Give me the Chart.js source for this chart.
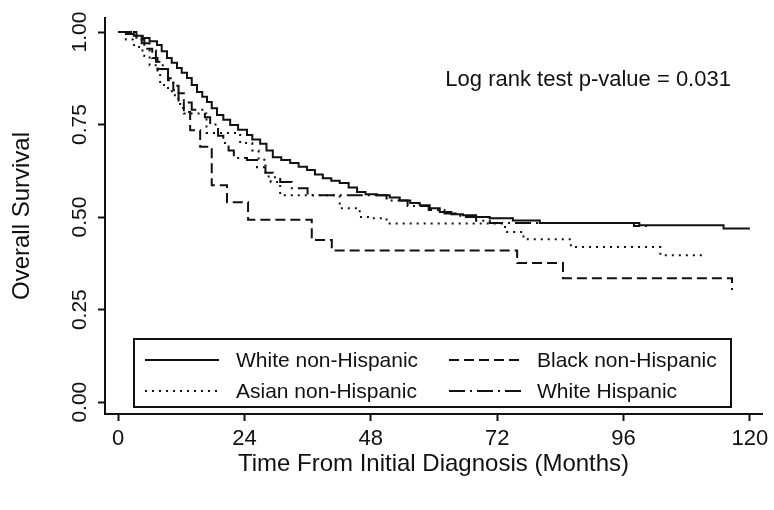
<!DOCTYPE html>
<html lang="en">
<head>
<meta charset="utf-8">
<title>Overall Survival by Race / Ethnicity</title>
<script src="https://cdn.jsdelivr.net/npm/chart.js"></script>
<style>
  html, body { margin: 0; padding: 0; background: #fff; }
  #wrap { width: 774px; height: 510px; }
</style>
</head>
<body>
<div id="wrap"><canvas id="kmChart" width="774" height="510"></canvas></div>
<script>
// Kaplan-Meier curves: month of each drop and the survival after it
const groups = ['White non-Hispanic', 'Black non-Hispanic', 'Asian non-Hispanic', 'White Hispanic'];

const whiteNhMonths = [0, 1.5, 3, 4.7, 6, 7.4, 8.3, 9.3, 10.2, 11.2, 12.1, 13.1, 14, 15, 16, 16.9, 17.8, 18.8, 20, 21.3,
  22.8, 24.5, 25.5, 27, 28.2, 29.4, 31, 32.7, 34.3, 35.9, 37.4, 38.9, 40.5, 42.1, 43.8, 45.4, 47, 49.2, 51.6, 53.5,
  55.5, 57.3, 59.2, 61.1, 63.3, 65.5, 68, 70.6, 75, 80.1, 99, 115, 120];
const whiteNhSurv = [1, 0.995, 0.99, 0.984, 0.975, 0.965, 0.948, 0.93, 0.917, 0.903, 0.89, 0.876, 0.857, 0.838, 0.825, 0.811, 0.794, 0.776, 0.763, 0.749,
  0.736, 0.722, 0.71, 0.698, 0.68, 0.662, 0.654, 0.646, 0.636, 0.627, 0.615, 0.605, 0.598, 0.592, 0.58, 0.568, 0.562, 0.559, 0.553, 0.545,
  0.538, 0.532, 0.524, 0.514, 0.508, 0.505, 0.5, 0.497, 0.491, 0.484, 0.478, 0.469, 0.469];

const blackNhMonths = [0, 3.5, 5, 6.5, 7.5, 9.5, 10.5, 11.5, 12.5, 13.7, 15.6, 17.8, 20.7, 24.7, 36.8, 40.6, 75.8, 84.5, 116.6];
const blackNhSurv = [1, 0.98, 0.955, 0.93, 0.9, 0.87, 0.843, 0.815, 0.784, 0.735, 0.69, 0.586, 0.54, 0.493, 0.438, 0.41, 0.376, 0.335, 0.303];

const asianNhMonths = [0, 1.5, 2.8, 4, 5, 6, 7.5, 8, 9.5, 10.8, 11.8, 12.5, 16.8, 23.2, 25.5, 26.7, 28, 29, 30.8, 42.1,
  45.9, 47.8, 51, 73.5, 77, 86, 103, 110.9];
const asianNhSurv = [1, 0.98, 0.965, 0.95, 0.935, 0.91, 0.89, 0.857, 0.84, 0.82, 0.795, 0.78, 0.727, 0.7, 0.68, 0.655, 0.61, 0.595, 0.559, 0.524,
  0.5, 0.497, 0.483, 0.46, 0.44, 0.419, 0.397, 0.397];

const whiteHispMonths = [0, 2.5, 4.5, 6, 7.2, 8.5, 9.5, 10.5, 11.5, 12.5, 14, 16.5, 17.5, 19, 20, 21, 22, 24.5, 26.4, 28,
  29.4, 30.8, 33, 36, 51, 55, 59, 62, 65, 68, 70.6, 98, 101];
const whiteHispSurv = [1, 0.99, 0.97, 0.95, 0.92, 0.9, 0.875, 0.855, 0.835, 0.81, 0.79, 0.77, 0.75, 0.72, 0.7, 0.68, 0.66, 0.654, 0.635, 0.62,
  0.608, 0.595, 0.578, 0.559, 0.545, 0.53, 0.519, 0.51, 0.5, 0.49, 0.484, 0.476, 0.476];

const xTicks = [0, 24, 48, 72, 96, 120];
const yTicks = [0, 0.25, 0.5, 0.75, 1];
const pValueNote = 'Log rank test p-value = 0.031';

const ink = '#111';
const FONT = '"Liberation Sans", Arial, sans-serif';
const dashes = [[], [10, 5], [2, 5], [16, 5, 2, 5]];
const series = [
  [whiteNhMonths, whiteNhSurv],
  [blackNhMonths, blackNhSurv],
  [asianNhMonths, asianNhSurv],
  [whiteHispMonths, whiteHispSurv]
];

function toPoints(months, surv) {
  return months.map((m, i) => ({ x: m, y: surv[i] }));
}

// p-value text in the upper right of the plot
const pValueText = {
  id: 'pValueText',
  afterDatasetsDraw(chart) {
    const { ctx, scales } = chart;
    ctx.save();
    ctx.font = '22px ' + FONT;
    ctx.fillStyle = ink;
    ctx.textAlign = 'right';
    ctx.textBaseline = 'middle';
    ctx.fillText(pValueNote, scales.x.getPixelForValue(116.4), scales.y.getPixelForValue(0.87));
    ctx.restore();
  }
};

// boxed two-column legend sitting inside the plot
const legendBox = {
  id: 'legendBox',
  afterDraw(chart) {
    const ctx = chart.ctx;
    ctx.save();
    ctx.fillStyle = '#fff';
    ctx.fillRect(134, 339, 597, 68);
    ctx.strokeStyle = ink;
    ctx.lineWidth = 2;
    ctx.strokeRect(134, 339, 597, 68);
    ctx.font = '21px ' + FONT;
    ctx.textBaseline = 'middle';
    chart.data.datasets.forEach((ds, i) => {
      const col = i % 2;
      const row = Math.floor(i / 2);
      const y = 360 + row * 31;
      const x0 = col ? 449 : 145;
      ctx.setLineDash(ds.borderDash);
      ctx.beginPath();
      ctx.moveTo(x0, y);
      ctx.lineTo(x0 + 74, y);
      ctx.stroke();
      ctx.setLineDash([]);
      ctx.fillStyle = ink;
      ctx.fillText(ds.label, col ? 537 : 236, y + 1.5);
    });
    ctx.restore();
  }
};

new Chart(document.getElementById('kmChart'), {
  type: 'line',
  data: {
    datasets: series.map((s, i) => ({
      label: groups[i],
      data: toPoints(s[0], s[1]),
      stepped: true,
      borderColor: ink,
      borderWidth: 2,
      borderDash: dashes[i],
      pointRadius: 0,
      fill: false
    }))
  },
  options: {
    responsive: false,
    animation: false,
    events: [],
    layout: { padding: { top: 18, right: 12, left: 0, bottom: 0 } },
    plugins: { legend: { display: false }, tooltip: { enabled: false } },
    scales: {
      x: {
        type: 'linear',
        min: -2.47,
        max: 122.3,
        afterBuildTicks: s => { s.ticks = xTicks.map(v => ({ value: v })); },
        afterFit: s => { s.height = 96; },
        grid: { drawOnChartArea: false, drawTicks: true, tickLength: 7, tickWidth: 2, tickColor: ink },
        border: { display: true, color: ink, width: 2 },
        ticks: { color: ink, font: { family: FONT, size: 22 }, padding: 5, maxRotation: 0, autoSkip: false,
                 callback: v => String(v) },
        title: { display: true, text: 'Time From Initial Diagnosis (Months)', color: ink,
                 font: { family: FONT, size: 24 }, padding: { top: 0, bottom: 31 } }
      },
      y: {
        min: -0.032,
        max: 1.038,
        afterBuildTicks: s => { s.ticks = yTicks.map(v => ({ value: v })); },
        afterFit: s => { s.width = 105; },
        grid: { drawOnChartArea: false, drawTicks: true, tickLength: 7, tickWidth: 2, tickColor: ink },
        border: { display: true, color: ink, width: 2 },
        ticks: { color: ink, font: { family: FONT, size: 21 }, minRotation: 90, maxRotation: 90,
                 crossAlign: 'center', padding: -3, callback: v => v.toFixed(2) },
        title: { display: true, text: 'Overall Survival', color: ink,
                 font: { family: FONT, size: 24 }, padding: { top: 8, bottom: 0 } }
      }
    }
  },
  plugins: [pValueText, legendBox]
});
</script>
</body>
</html>
